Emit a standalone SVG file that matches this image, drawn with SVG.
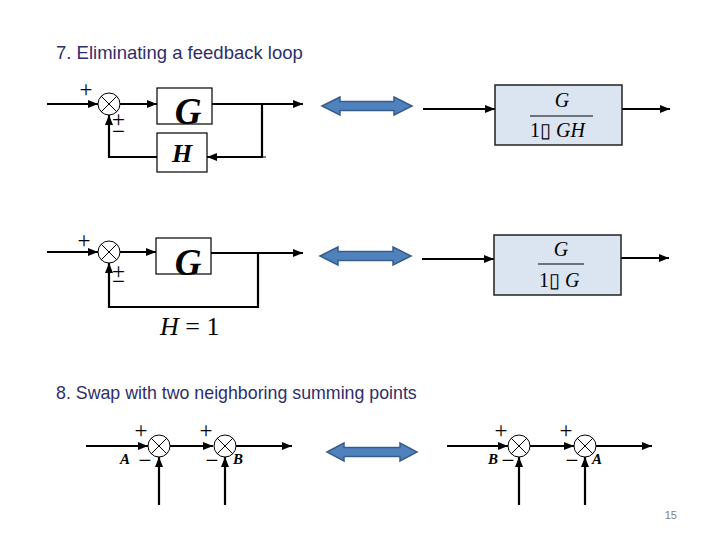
<svg xmlns="http://www.w3.org/2000/svg" width="720" height="540" viewBox="0 0 720 540">
<defs>
<marker id="ah" markerUnits="userSpaceOnUse" markerWidth="10" markerHeight="8" viewBox="0 0 10 8" refX="10" refY="4" orient="auto">
<path d="M0,0 L10,4 L0,8 z" fill="#000"/>
</marker>
</defs>
<style>
.ln{fill:none;stroke:#000;stroke-width:2.2}
.ar{marker-end:url(#ah)}
.box{fill:#fff;stroke:#000;stroke-width:1.2}
.tf{fill:#DBE5F1;stroke:#222;stroke-width:1.5}
.sj{fill:#fff;stroke:#000;stroke-width:1}
.x{stroke:#000;stroke-width:1}
.title{font-family:"Liberation Sans",Arial,sans-serif;font-size:18.5px;fill:#2E2E6B}
.m{font-family:"Liberation Serif","Times New Roman",serif;font-style:italic;fill:#000}
.mb{font-family:"Liberation Serif","Times New Roman",serif;font-style:italic;font-weight:bold;fill:#000}
.r{font-family:"Liberation Serif","Times New Roman",serif;font-style:normal;fill:#000}
.sg{font-family:"Liberation Serif","Times New Roman",serif;font-size:23px;fill:#000;text-anchor:middle}
.lab{font-family:"Liberation Serif","Times New Roman",serif;font-style:italic;font-weight:bold;font-size:15px;fill:#000}
.dbl{fill:#4F81BD;stroke:#385D8A;stroke-width:1.5}
.pg{font-family:"Liberation Sans",Arial,sans-serif;font-size:11px;fill:#808080}
</style>

<text class="title" x="56" y="59">7. Eliminating a feedback loop</text>
<text class="title" x="56" y="399" style="font-size:17.8px">8. Swap with two neighboring summing points</text>
<text class="pg" x="677" y="519" text-anchor="end">15</text>

<g id="connectors">
<!-- section 7 top -->
<line class="ln ar" x1="47" y1="104" x2="98" y2="104"/>
<line class="ln ar" x1="120" y1="104" x2="157" y2="104"/>
<line class="ln ar" x1="212" y1="104" x2="303" y2="104"/>
<polyline class="ln" points="262,104 262,157"/>
<line class="ln ar" x1="263" y1="157" x2="207" y2="157"/>
<line x1="262" y1="157" x2="266" y2="157" stroke="#000" stroke-width="1"/>
<polyline class="ln ar" points="157,157 109,157 109,115"/>
<line class="ln ar" x1="423" y1="109" x2="495" y2="109"/>
<line class="ln ar" x1="622" y1="109" x2="670" y2="109"/>
<!-- section 7 bottom -->
<line class="ln ar" x1="47" y1="252" x2="98" y2="252"/>
<line class="ln ar" x1="120" y1="252" x2="156" y2="252"/>
<line class="ln ar" x1="211" y1="253" x2="303" y2="253"/>
<polyline class="ln ar" points="258,253 258,307 109,307 109,263"/>
<line class="ln ar" x1="422" y1="259" x2="494" y2="259"/>
<line class="ln ar" x1="621" y1="258" x2="669" y2="258"/>
<!-- section 8 left -->
<line class="ln ar" x1="86" y1="446" x2="148" y2="446"/>
<line class="ln ar" x1="170" y1="446" x2="213" y2="446"/>
<line class="ln ar" x1="236" y1="446" x2="292" y2="446"/>
<line class="ln ar" x1="159" y1="505" x2="159" y2="457"/>
<line class="ln ar" x1="225" y1="505" x2="225" y2="457"/>
<!-- section 8 right -->
<line class="ln ar" x1="447" y1="446" x2="508" y2="446"/>
<line class="ln ar" x1="530" y1="446" x2="574" y2="446"/>
<line class="ln ar" x1="596" y1="446" x2="652" y2="446"/>
<line class="ln ar" x1="519" y1="505" x2="519" y2="457"/>
<line class="ln ar" x1="585" y1="505" x2="585" y2="457"/>
</g>

<g id="equiv-arrows">
<polygon class="dbl" points="322,106 340,97 340,101.5 394,101.5 394,97 412,106 394,115 394,110.5 340,110.5 340,115"/>
<polygon class="dbl" points="320,256 338,247 338,251.5 393,251.5 393,247 411,256 393,265 393,260.5 338,260.5 338,265"/>
<polygon class="dbl" points="327,452 344,443 344,447.5 400,447.5 400,443 417,452 400,461 400,456.5 344,456.5 344,461"/>
</g>

<!-- section 7 top -->
<g id="sum1">
<circle class="sj" cx="109" cy="104" r="11"/>
<line class="x" x1="101.2" y1="96.2" x2="116.8" y2="111.8"/>
<line class="x" x1="116.8" y1="96.2" x2="101.2" y2="111.8"/>
<text class="sg" x="86" y="97">+</text>
<text class="sg"><tspan x="118.5" y="127">+</tspan><tspan x="118.5" y="139">−</tspan></text>
</g>
<g id="G1">
<rect class="box" x="157" y="88" width="55" height="36"/>
<text class="mb" x="188" y="124" font-size="37" text-anchor="middle">G</text>
</g>
<g id="H1">
<rect class="box" x="157" y="133" width="50" height="39"/>
<text class="mb" x="182" y="162" font-size="26" text-anchor="middle">H</text>
</g>
<g id="TF1">
<rect class="tf" x="495" y="85" width="127" height="60"/>
<text class="m" x="562" y="107" font-size="20" text-anchor="middle">G</text>
<line x1="530" y1="116" x2="593" y2="116" stroke="#000" stroke-width="1"/>
<text x="530" y="137" font-size="20"><tspan class="r">1▯</tspan><tspan class="m"> GH</tspan></text>
</g>

<!-- section 7 bottom -->
<g id="sum2">
<circle class="sj" cx="109" cy="252" r="11"/>
<line class="x" x1="101.2" y1="244.2" x2="116.8" y2="259.8"/>
<line class="x" x1="116.8" y1="244.2" x2="101.2" y2="259.8"/>
<text class="sg" x="84" y="248">+</text>
<text class="sg"><tspan x="118.5" y="279">+</tspan><tspan x="118.5" y="289">−</tspan></text>
</g>
<g id="G2">
<rect class="box" x="156" y="238" width="55" height="36"/>
<text class="mb" x="188" y="275" font-size="37" text-anchor="middle">G</text>
</g>
<g id="H1label">
<text x="160" y="335" font-size="26"><tspan class="m">H</tspan><tspan class="r"> = 1</tspan></text>
</g>
<g id="TF2">
<rect class="tf" x="494" y="235" width="127" height="60"/>
<text class="m" x="561" y="256" font-size="20" text-anchor="middle">G</text>
<line x1="538" y1="264" x2="584" y2="264" stroke="#000" stroke-width="1"/>
<text x="539" y="287" font-size="20"><tspan class="r">1▯</tspan><tspan class="m"> G</tspan></text>
</g>

<!-- section 8 left -->
<g id="sumA">
<circle class="sj" cx="159" cy="446" r="11"/>
<line class="x" x1="151.2" y1="438.2" x2="166.8" y2="453.8"/>
<line class="x" x1="166.8" y1="438.2" x2="151.2" y2="453.8"/>
<text class="sg" x="141" y="438">+</text>
<text class="lab" x="120" y="464">A</text>
<text class="sg" x="145" y="468">−</text>
</g>
<g id="sumB">
<circle class="sj" cx="225" cy="446" r="11"/>
<line class="x" x1="217.2" y1="438.2" x2="232.8" y2="453.8"/>
<line class="x" x1="232.8" y1="438.2" x2="217.2" y2="453.8"/>
<text class="sg" x="206" y="438">+</text>
<text class="sg" x="212" y="468">−</text>
<text class="lab" x="233" y="464">B</text>
</g>

<!-- section 8 right -->
<g id="sumB2">
<circle class="sj" cx="519" cy="446" r="11"/>
<line class="x" x1="511.2" y1="438.2" x2="526.8" y2="453.8"/>
<line class="x" x1="526.8" y1="438.2" x2="511.2" y2="453.8"/>
<text class="sg" x="501" y="438">+</text>
<text class="lab" x="488" y="464">B</text>
<text class="sg" x="508" y="468">−</text>
</g>
<g id="sumA2">
<circle class="sj" cx="585" cy="446" r="11"/>
<line class="x" x1="577.2" y1="438.2" x2="592.8" y2="453.8"/>
<line class="x" x1="592.8" y1="438.2" x2="577.2" y2="453.8"/>
<text class="sg" x="566" y="438">+</text>
<text class="sg" x="572" y="468">−</text>
<text class="lab" x="592" y="464">A</text>
</g>
</svg>
